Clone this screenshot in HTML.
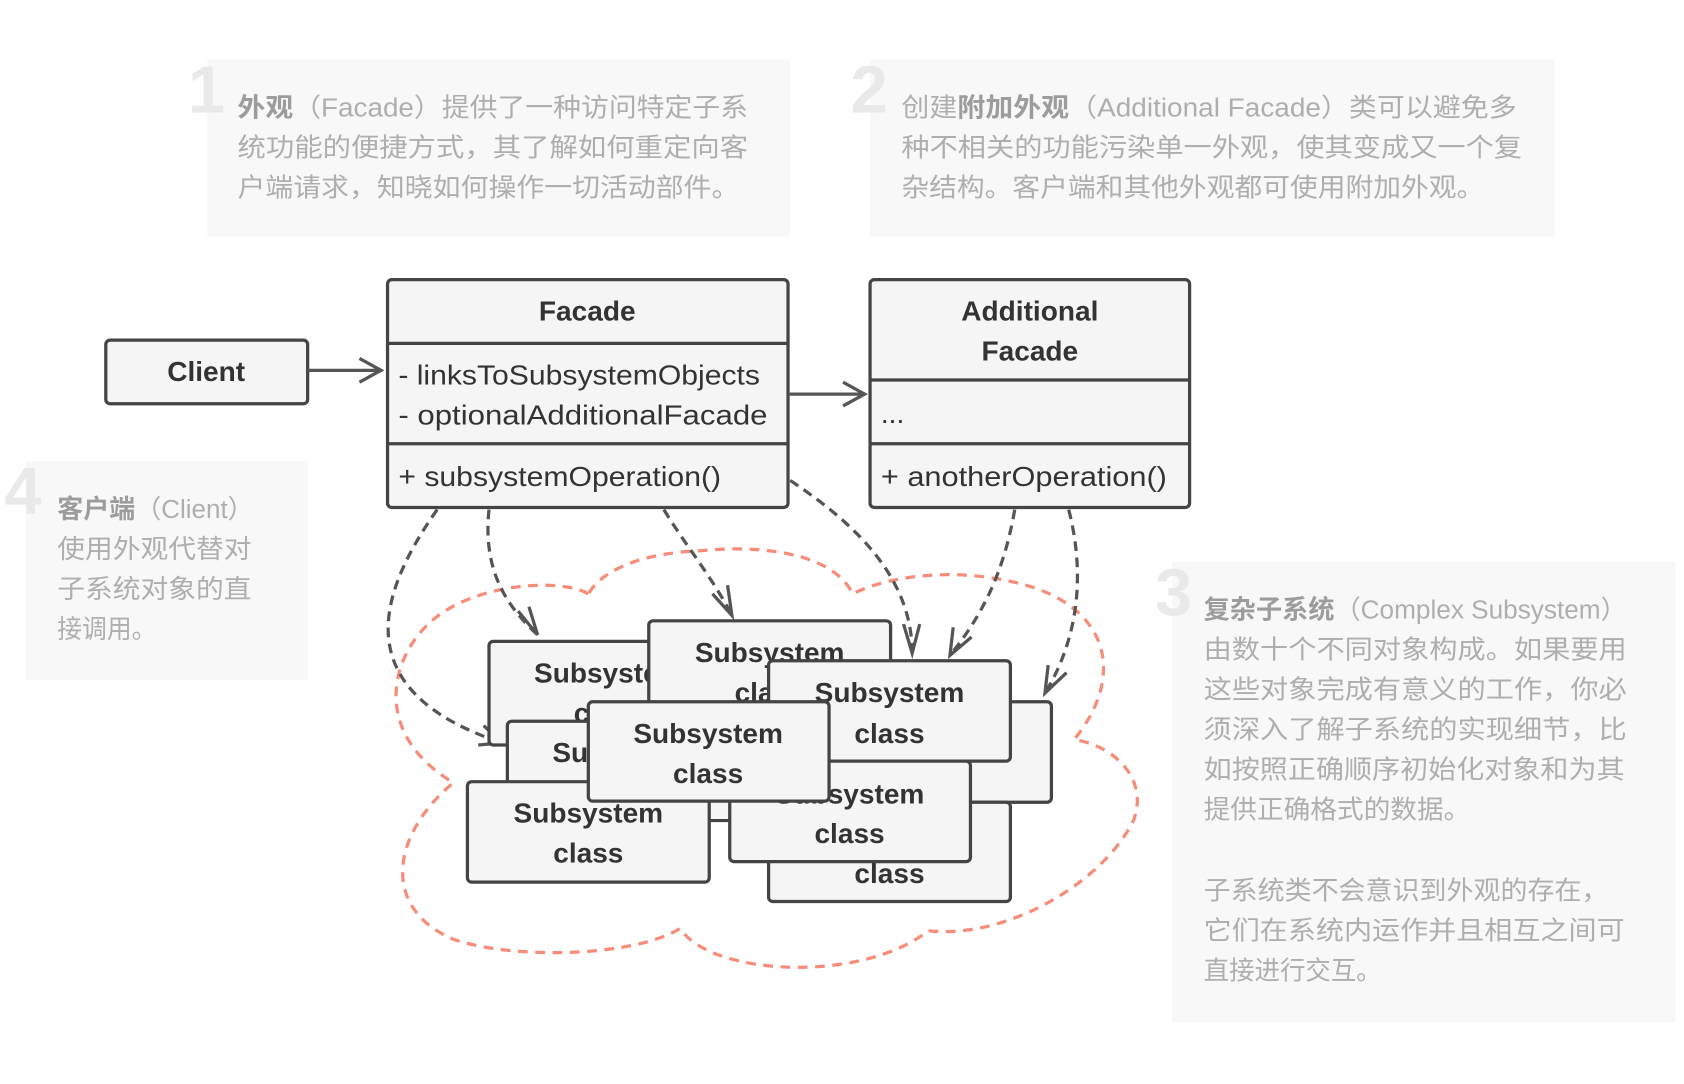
<!DOCTYPE html>
<html><head><meta charset="utf-8"><style>
html,body{margin:0;padding:0;background:#fff;}
svg{display:block;}
.n{font-family:"Liberation Sans","Noto Sans CJK SC",sans-serif;font-size:24px;fill:#aeaeae;}
.n .b{font-weight:bold;fill:#9c9c9c;}
.d{font-family:"Liberation Sans","Noto Sans CJK SC",sans-serif;font-size:62px;font-weight:bold;fill:#e9e9e9;}
.t{font-family:"Liberation Sans",sans-serif;font-size:26px;fill:#333;font-weight:bold;text-anchor:middle;}
.f{font-family:"Liberation Sans",sans-serif;font-size:26px;fill:#333;}
.box{fill:#f5f5f5;stroke:#444;stroke-width:3;}
.ln{fill:none;stroke:#555;stroke-width:3;}
.da{fill:none;stroke:#555;stroke-width:3;stroke-dasharray:9 6;}
</style></head><body>
<svg width="1684" height="1084" viewBox="0 0 1560 1004" preserveAspectRatio="none" xmlns="http://www.w3.org/2000/svg">
<rect x="192" y="55" width="540" height="165" fill="#f8f8f8"/>
<text class="d" x="174" y="104">1</text>
<text class="n" x="220" y="108" textLength="473" lengthAdjust="spacingAndGlyphs"><tspan class="b">外观</tspan>（Facade）提供了一种访问特定子系</text>
<text class="n" x="220" y="145" textLength="473" lengthAdjust="spacingAndGlyphs">统功能的便捷方式，其了解如何重定向客</text>
<text class="n" x="220" y="182" textLength="465" lengthAdjust="spacingAndGlyphs">户端请求，知晓如何操作一切活动部件。</text>

<rect x="806" y="55" width="634" height="165" fill="#f8f8f8"/>
<text class="d" x="788" y="104">2</text>
<text class="n" x="835" y="108" textLength="570" lengthAdjust="spacingAndGlyphs">创建<tspan class="b">附加外观</tspan>（Additional Facade）类可以避免多</text>
<text class="n" x="835" y="145" textLength="575" lengthAdjust="spacingAndGlyphs">种不相关的功能污染单一外观，使其变成又一个复</text>
<text class="n" x="835" y="182" textLength="540" lengthAdjust="spacingAndGlyphs">杂结构。客户端和其他外观都可使用附加外观。</text>

<rect x="24" y="427" width="261" height="203" fill="#f8f8f8"/>
<text class="d" x="4" y="476">4</text>
<text class="n" x="53" y="480" textLength="182" lengthAdjust="spacingAndGlyphs"><tspan class="b">客户端</tspan>（Client）</text>
<text class="n" x="53" y="517" textLength="180" lengthAdjust="spacingAndGlyphs">使用外观代替对</text>
<text class="n" x="53" y="554" textLength="180" lengthAdjust="spacingAndGlyphs">子系统对象的直</text>
<text class="n" x="53" y="591" textLength="92" lengthAdjust="spacingAndGlyphs">接调用。</text>

<rect x="1086" y="520" width="466" height="427" fill="#f8f8f8"/>
<text class="d" x="1070" y="570">3</text>
<text class="n" x="1115" y="573" textLength="392" lengthAdjust="spacingAndGlyphs"><tspan class="b">复杂子系统</tspan>（Complex Subsystem）</text>
<text class="n" x="1115" y="610" textLength="392" lengthAdjust="spacingAndGlyphs">由数十个不同对象构成。如果要用</text>
<text class="n" x="1115" y="647" textLength="392" lengthAdjust="spacingAndGlyphs">这些对象完成有意义的工作，你必</text>
<text class="n" x="1115" y="684" textLength="392" lengthAdjust="spacingAndGlyphs">须深入了解子系统的实现细节，比</text>
<text class="n" x="1115" y="721" textLength="390" lengthAdjust="spacingAndGlyphs">如按照正确顺序初始化对象和为其</text>
<text class="n" x="1115" y="758" textLength="247" lengthAdjust="spacingAndGlyphs">提供正确格式的数据。</text>
<text class="n" x="1115" y="833" textLength="375" lengthAdjust="spacingAndGlyphs">子系统类不会意识到外观的存在，</text>
<text class="n" x="1115" y="870" textLength="390" lengthAdjust="spacingAndGlyphs">它们在系统内运作并且相互之间可</text>
<text class="n" x="1115" y="907" textLength="165" lengthAdjust="spacingAndGlyphs">直接进行交互。</text>

<path d="M545,550 C520,535 440,540 400,575 C360,610 345,680 420,725 C365,770 350,840 420,870 C480,890 590,885 630,860 C660,905 800,910 860,862 C930,870 1020,820 1050,760 C1065,720 1030,690 995,685 C1040,630 1030,570 960,545 C900,525 830,530 790,550 C770,510 700,505 650,510 C600,512 560,525 545,550 Z" fill="none" stroke="#f78c79" stroke-width="3" stroke-dasharray="9 7"/>

<path class="da" d="M405,472 C350,550 320,640 465,688"/>
<path class="ln" d="M448,672 L465,688 L443,690"/>
<path class="da" d="M453,472 C448,520 462,555 498,588"/>
<path class="ln" d="M480,566 L498,588 L490,562"/>
<path class="da" d="M615,472 C635,505 660,535 678,570"/>
<path class="ln" d="M660,550 L678,570 L674,542"/>
<path class="da" d="M732,445 C800,490 845,540 845,605"/>
<path class="ln" d="M837,578 L845,605 L852,578"/>
<path class="da" d="M940,472 C930,530 910,570 880,607"/>
<path class="ln" d="M883,581 L880,607 L900,590"/>
<path class="da" d="M990,472 C1005,530 1000,590 968,642"/>
<path class="ln" d="M971,616 L968,642 L988,623"/>

<rect class="box" x="453" y="594" width="222" height="96" rx="4"/>
<text class="t" x="564" y="632">Subsystem</text><text class="t" x="564" y="669">class</text>
<rect class="box" x="601" y="575" width="224" height="95" rx="4"/>
<text class="t" x="713" y="613">Subsystem</text><text class="t" x="713" y="650">class</text>
<rect class="box" x="750" y="650" width="224" height="93" rx="4"/>
<rect class="box" x="712" y="743" width="224" height="92" rx="4"/>
<text class="t" x="824" y="780">Subsystem</text><text class="t" x="824" y="818">class</text>
<rect class="box" x="712" y="612" width="224" height="93" rx="4"/>
<text class="t" x="824" y="650">Subsystem</text><text class="t" x="824" y="688">class</text>
<rect class="box" x="470" y="668" width="223" height="92" rx="4"/>
<text class="t" x="581" y="706">Subsystem</text>
<rect class="box" x="433" y="724" width="224" height="93" rx="4"/>
<text class="t" x="545" y="762">Subsystem</text><text class="t" x="545" y="799">class</text>
<rect class="box" x="676" y="705" width="223" height="93" rx="4"/>
<text class="t" x="787" y="744">Subsystem</text><text class="t" x="787" y="781">class</text>
<rect class="box" x="545" y="650" width="223" height="92" rx="4"/>
<text class="t" x="656" y="688">Subsystem</text><text class="t" x="656" y="725">class</text>

<rect class="box" x="98" y="315" width="187" height="59" rx="4"/>
<text class="t" x="191" y="353">Client</text>
<path class="ln" d="M285,343 L353,343 M333,332 L353,343 L333,354"/>

<rect class="box" x="359" y="259" width="371" height="211" rx="4"/>
<line class="ln" x1="359" y1="318" x2="730" y2="318" style="stroke:#444"/>
<line class="ln" x1="359" y1="411" x2="730" y2="411" style="stroke:#444"/>
<text class="t" x="544" y="297">Facade</text>
<text class="f" x="369" y="356" textLength="335" lengthAdjust="spacingAndGlyphs">- linksToSubsystemObjects</text>
<text class="f" x="369" y="393" textLength="342" lengthAdjust="spacingAndGlyphs">- optionalAdditionalFacade</text>
<text class="f" x="369" y="450" textLength="299" lengthAdjust="spacingAndGlyphs">+ subsystemOperation()</text>
<path class="ln" d="M730,365 L801,365 M781,354 L801,365 L781,376"/>

<rect class="box" x="806" y="259" width="296" height="211" rx="4"/>
<line class="ln" x1="806" y1="352" x2="1102" y2="352" style="stroke:#444"/>
<line class="ln" x1="806" y1="411" x2="1102" y2="411" style="stroke:#444"/>
<text class="t" x="954" y="297">Additional</text>
<text class="t" x="954" y="334">Facade</text>
<text class="f" x="816" y="392">...</text>
<text class="f" x="816" y="450" textLength="265" lengthAdjust="spacingAndGlyphs">+ anotherOperation()</text>
</svg>
</body></html>
